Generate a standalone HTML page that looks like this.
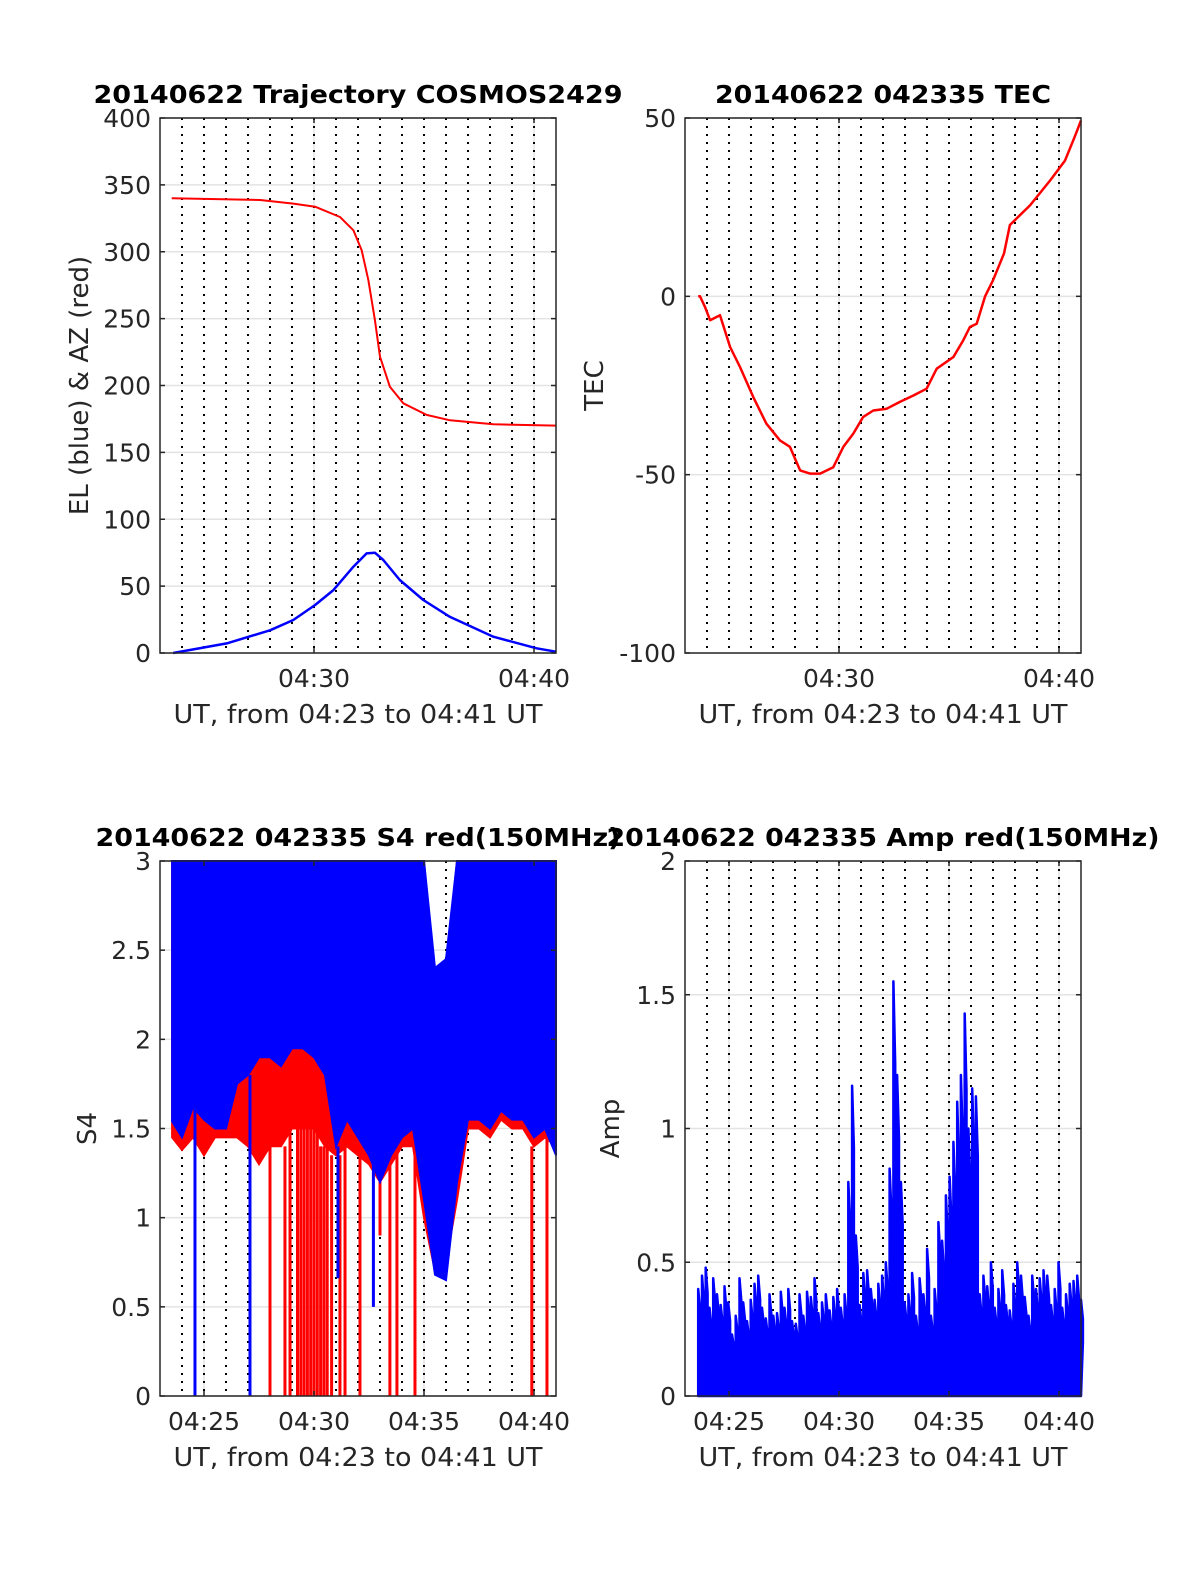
<!DOCTYPE html>
<html><head><meta charset="utf-8"><style>
html,body{margin:0;padding:0;background:#fff;overflow:hidden;width:1200px;height:1575px;}
svg{display:block;}
svg text{font-family:"DejaVu Sans","Liberation Sans",sans-serif;fill:#262626;}
</style></head><body>
<svg id="fig" width="1200" height="1575" viewBox="0 0 1200 1575" xmlns="http://www.w3.org/2000/svg"></svg>
<script>
// ---------- DATA ----------
const azT = [23.53,27.55,29.06,30.05,31.18,31.79,32.17,32.47,32.77,33.0,33.45,34.06,35.12,36.18,38.15,41.0];
const azV = [340,338.7,336,333.7,326,316,301,279,249,221.5,199,186.7,178,174,171,170];
const elT = [23.6,26.03,28.0,29.06,30.05,30.88,31.79,32.39,32.77,33.15,33.9,34.97,36.18,38.15,40.12,41.0];
const elV = [0,7.2,17,24.7,35.9,47,64.5,74.5,75,69.5,54.6,39.6,27,12.2,3.5,1];
const tecT = [23.6,23.68,23.91,24.14,24.59,25.05,25.5,26.1,26.7,27.32,27.77,28.23,28.68,29.14,29.74,30.2,30.65,31.1,31.56,32.17,32.77,33.38,33.98,34.44,35.2,35.65,35.95,36.26,36.64,37.0,37.5,37.77,38.68,39.6,40.27,40.73,41.0];
const tecV = [0,0,-3,-6.7,-5.3,-14.2,-19.8,-28.2,-35.7,-40.4,-42.2,-48.8,-49.7,-49.7,-47.9,-42.2,-38.5,-33.8,-32,-31.5,-29.6,-27.8,-25.9,-20.3,-17,-12.3,-8.6,-7.7,0,4.5,12,20,25.5,32.5,38,45,49.3];
const s4T = [23.55,24,24.5,25,25.5,26,26.5,27,27.5,28,28.5,29,29.5,30,30.5,31,31.5,32,32.5,33,33.5,34,34.5,35,35.5,36,36.5,37,37.5,38,38.5,39,39.5,40,40.5,41];
const s4BlueLow = [1.54,1.45,1.62,1.55,1.5,1.5,1.75,1.8,1.9,1.9,1.85,1.95,1.95,1.9,1.8,1.4,1.55,1.45,1.35,1.2,1.35,1.45,1.5,1.1,0.68,0.65,1.2,1.55,1.55,1.5,1.6,1.55,1.55,1.45,1.5,1.35];
const s4BlueHigh = [3,3,3,3,3,3,3,3,3,3,3,3,3,3,3,3,3,3,3,3,3,3,3,3,2.4,2.45,3,3,3,3,3,3,3,3,3,3];
const s4RedLow = [1.45,1.38,1.45,1.35,1.45,1.45,1.45,1.4,1.3,1.4,1.4,1.5,1.5,1.5,1.4,1.35,1.4,1.35,1.3,1.2,1.3,1.4,1.4,1.0,0.7,0.75,1.1,1.5,1.5,1.45,1.55,1.5,1.5,1.4,1.45,1.4];
const s4RedHigh = [3,3,3,3,3,3,3,3,3,3,3,3,3,3,3,3,3,3,3,3,3,3,3,3,2.3,2.4,3,3,3,3,3,3,3,3,3,3];
const redSpikeT = [28.0,28.68,28.91,29.25,29.4,29.55,29.7,29.85,30.0,30.15,30.3,30.45,30.6,30.8,31.18,31.41,32.09,33.0,33.45,33.77,34.59,39.9,40.59];
const redSpikeV = [0,0,0,0,0,0,0,0,0,0,0,0,0,0,0,0,0,0.9,0,0,0,0,0];
const blueSpikeT = [24.59,27.09,31.09,32.7];
const blueSpikeV = [0,0,0.66,0.5];
const ampV = [0.40,0.45,0.48,0.33,0.44,0.38,0.34,0.41,0.35,0.23,
 0.30,0.44,0.35,0.28,0.36,0.42,0.45,0.33,0.29,0.38,
 0.30,0.31,0.39,0.33,0.40,0.28,0.27,0.38,0.30,0.39,
 0.37,0.44,0.31,0.35,0.38,0.32,0.37,0.40,0.33,0.38,
 0.80,1.16,0.60,0.34,0.46,0.47,0.40,0.36,0.42,0.45,0.50,
 0.85,1.55,1.20,0.80,0.35,0.38,0.46,0.30,0.44,0.38,0.55,0.30,0.40,0.65,
 0.58,0.75,0.82,0.95,1.10,1.20,1.43,1.00,1.15,1.12,0.38,
 0.45,0.41,0.50,0.33,0.40,0.47,0.34,0.32,0.42,0.50,0.45,0.37,0.30,
 0.45,0.40,0.44,0.47,0.45,0.34,0.40,0.50,0.33,0.38,0.42,0.43,0.45,0.36];
const ampT0 = 23.6, ampT1 = 41.0;

// ---------- DRAWING ----------
const NS = "http://www.w3.org/2000/svg";
const svg = document.getElementById('fig');
function mk(tag, attrs, parent){const e=document.createElementNS(NS,tag);for(const k in attrs)e.setAttribute(k,attrs[k]);(parent||svg).appendChild(e);return e;}
function txt(s,x,y,attrs,parent){const e=mk('text',Object.assign({x:x,y:y,'font-size':25},attrs||{}),parent);e.textContent=s;return e;}

function makeAxes(name,x0,y0,w,h,ymin,ymax,yticks,xticks,xtickLabels,title,titleLen,ylabel,ylx){
  const g=mk('g',{});
  
  
  const sx=t=>x0+(t-23)/18*w;
  const sy=v=>y0+h-(v-ymin)/(ymax-ymin)*h;
  yticks.forEach(v=>{const l=mk('line',{x1:x0,x2:x0+w,y1:sy(v),y2:sy(v),stroke:'#e3e3e3','stroke-width':1.5},g);
    });
  xticks.forEach(t=>{const l=mk('line',{x1:sx(t),x2:sx(t),y1:y0,y2:y0+h,stroke:'#e3e3e3','stroke-width':1.5},g);
    });
  for(let m=24;m<=40;m++){const l=mk('line',{x1:sx(m),x2:sx(m),y1:y0,y2:y0+h,stroke:'#000','stroke-width':2,'stroke-dasharray':'2 6'},g);
    }
  const plot=mk('g',{},g);
  
  
  const top=mk('g',{},g);
  const box=mk('rect',{x:x0,y:y0,width:w,height:h,fill:'none',stroke:'#262626','stroke-width':1.5},top);
  
  yticks.forEach(v=>{
    mk('line',{x1:x0,x2:x0+5,y1:sy(v),y2:sy(v),stroke:'#262626','stroke-width':1.5},top);
    mk('line',{x1:x0+w-5,x2:x0+w,y1:sy(v),y2:sy(v),stroke:'#262626','stroke-width':1.5},top);
    const t=txt(String(v),x0-9,sy(v)+9,{'text-anchor':'end'},top);
    
  });
  xticks.forEach((t,i)=>{
    mk('line',{x1:sx(t),x2:sx(t),y1:y0+h,y2:y0+h-5,stroke:'#262626','stroke-width':1.5},top);
    mk('line',{x1:sx(t),x2:sx(t),y1:y0,y2:y0+5,stroke:'#262626','stroke-width':1.5},top);
    const e=txt(xtickLabels[i],sx(t),y0+h+34,{'text-anchor':'middle'},top);
    
  });
  const tt=txt(title,x0+w/2,y0-15,{'text-anchor':'middle','font-weight':'bold','fill':'#000','font-size':25,textLength:titleLen,lengthAdjust:'spacingAndGlyphs'},top);
  tt.style.fill='#000';
  
  const xl=txt('UT, from 04:23 to 04:41 UT',x0+w/2,y0+h+70,{'text-anchor':'middle','font-size':26,textLength:369,lengthAdjust:'spacingAndGlyphs'},top);
  
  const cy=y0+h/2;
  const yl=txt(ylabel,ylx,cy,{'text-anchor':'middle','font-size':26,transform:`rotate(-90 ${ylx} ${cy})`},top);
  
  return {sx,sy,plot};
}
function poly(ax,T,V,color,width,name){
  const pts=T.map((t,i)=>ax.sx(t).toFixed(1)+','+ax.sy(V[i]).toFixed(1)).join(' ');
  const p=mk('polyline',{points:pts,fill:'none',stroke:color,'stroke-width':width,'stroke-linejoin':'round'},ax.plot);
  
  
  return p;
}
function band(ax,T,lo,hi,color,name){
  const up=T.map((t,i)=>ax.sx(t).toFixed(1)+','+ax.sy(hi[i]).toFixed(1));
  const dn=T.map((t,i)=>ax.sx(t).toFixed(1)+','+ax.sy(lo[i]).toFixed(1)).reverse();
  const p=mk('polygon',{points:up.concat(dn).join(' '),fill:color,stroke:color,'stroke-width':2},ax.plot);
  
  
}
function spikes(ax,T,V,loT,loV,color,name){
  T.forEach((t,i)=>{
    let j=0;for(let k=0;k<loT.length;k++){if(Math.abs(loT[k]-t)<Math.abs(loT[j]-t))j=k;}
    const l=mk('line',{x1:ax.sx(t),x2:ax.sx(t),y1:ax.sy(loV[j]),y2:ax.sy(V[i]),stroke:color,'stroke-width':3},ax.plot);
    
    
  });
}

const a1=makeAxes('trajectory-chart',160,118,396,535,0,400,[0,50,100,150,200,250,300,350,400],[30,40],['04:30','04:40'],'20140622 Trajectory COSMOS2429',529,'EL (blue) & AZ (red)',88);
poly(a1,azT,azV,'#ff0000',2,'azimuth-line');
poly(a1,elT,elV,'#0000ff',2.5,'elevation-line');

const a2=makeAxes('tec-chart',685,118,396,535,-100,50,[-100,-50,0,50],[30,40],['04:30','04:40'],'20140622 042335 TEC',336,'TEC',603);
poly(a2,tecT,tecV,'#ff0000',2.5,'tec-line');

const a3=makeAxes('s4-chart',160,861,396,535,0,3,[0,0.5,1,1.5,2,2.5,3],[25,30,35,40],['04:25','04:30','04:35','04:40'],'20140622 042335 S4 red(150MHz)',525,'S4',96);
band(a3,s4T,s4RedLow,s4RedHigh,'#ff0000','s4-red-band');
spikes(a3,redSpikeT,redSpikeV,s4T,s4RedLow,'#ff0000','s4-red-spike');
band(a3,s4T,s4BlueLow,s4BlueHigh,'#0000ff','s4-blue-band');
spikes(a3,blueSpikeT,blueSpikeV,s4T,s4BlueLow,'#0000ff','s4-blue-spike');

const a4=makeAxes('amp-chart',685,861,396,535,0,2,[0,0.5,1,1.5,2],[25,30,35,40],['04:25','04:30','04:35','04:40'],'20140622 042335 Amp red(150MHz)',553,'Amp',619);
const dt=(ampT1-ampT0)/(ampV.length-1);
const ampPts=[];
ampV.forEach((v,i)=>{const t=ampT0+i*dt;ampPts.push([t,0],[t,v],[t+dt*0.5,v*0.8],[t+dt*0.5,0.2]);});
ampPts.push([ampT1,0]);
const ap=mk('polygon',{points:ampPts.map(p=>a4.sx(p[0]).toFixed(1)+','+a4.sy(p[1]).toFixed(1)).join(' '),fill:'#0000ff',stroke:'#0000ff','stroke-width':2.5,'stroke-linejoin':'round'},a4.plot);


</script>
</body></html>
